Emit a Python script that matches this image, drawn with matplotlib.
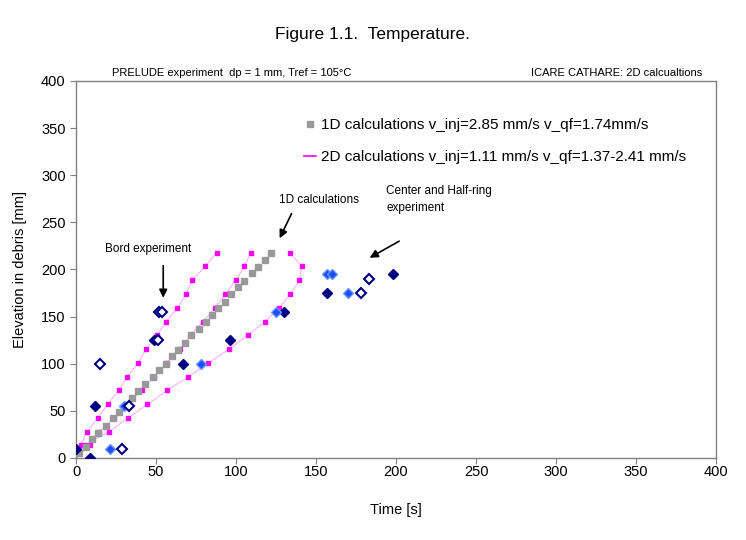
import matplotlib.pyplot as plt
from matplotlib.lines import Line2D

plt.rcParams['font.family'] = ['Liberation Sans', 'DejaVu Sans']

# 1D calculation (grey squares)
t_1d = [2, 6, 10, 14, 19, 23, 27, 31, 35, 39, 43, 48, 52, 56, 60,
        64, 68, 72, 77, 81, 85, 89, 93, 97, 101, 105, 110, 114, 118, 122]
z_1d = [5, 12, 20, 27, 34, 42, 49, 56, 64, 71, 78, 86, 93, 100, 108,
        115, 122, 130, 137, 144, 152, 159, 166, 174, 181, 188, 196, 203, 210, 218]

# 2D calculations, three radial positions (magenta)
z_2d = [0, 13.8, 27.8, 42.6, 56.8, 72, 86, 100.8, 115.3, 130.2, 144.7, 159, 173.9, 188.4, 203.2, 217.7]
t_2d_a = [0, 2.9, 6.9, 13.6, 19.8, 26.7, 32.1, 38.8, 43.8, 50.8, 56.3, 63.1, 68.8, 72.7, 80.6, 87.9]
t_2d_b = [0, 8.6, 14.4, 23.8, 32.3, 41.1, 48.6, 56.6, 64.7, 71.6, 79.4, 86.9, 93.3, 99.8, 105.2, 109.2]
t_2d_c = [0, 5.6, 20.6, 32.7, 44.6, 57.1, 70.2, 82.8, 95.6, 107.3, 118.1, 126.9, 133.9, 139.6, 141.1, 133.8]

# experiments
t_exp_dark = [0, 9, 12, 49, 67, 96, 130, 157, 198]
z_exp_dark = [10, 0, 55, 125, 100, 125, 155, 175, 195]
t_exp_blue = [21, 30, 78, 125, 157, 160, 170]
z_exp_blue = [10, 55, 100, 155, 195, 195, 175]
t_exp_open = [29, 15, 33, 51, 52, 54, 178, 183]
z_exp_open = [10, 100, 55, 125, 155, 155, 175, 190]

label_1d = "1D calculations v_inj=2.85 mm/s v_qf=1.74mm/s"
label_2d = "2D calculations v_inj=1.11 mm/s v_qf=1.37-2.41 mm/s"

fig = plt.figure(figsize=(7.46, 5.40), dpi=100)
ax = fig.add_axes([0.1019, 0.1519, 0.8579, 0.6981])

for t in (t_2d_a, t_2d_b, t_2d_c):
    ax.plot(t, z_2d, color='#ffa6ff', lw=0.7, marker='s', ms=3.3,
            mfc='#ff00ff', mec='#ff00ff', markevery=slice(1, None), zorder=2)

ax.plot(t_1d, z_1d, ls='none', marker='s', ms=5, color='#999999', zorder=3)

ax.plot(t_exp_dark, z_exp_dark, ls='none', marker='D', ms=5.3,
        mfc='#000080', mec='#000080', zorder=4)
ax.plot(t_exp_blue, z_exp_blue, ls='none', marker='D', ms=5.3,
        mfc='#1a4dff', mec='#6b95ff', zorder=4)
ax.plot(t_exp_open, z_exp_open, ls='none', marker='D', ms=5.0,
        mfc='white', mec='#000080', mew=1.5, zorder=5)

ax.set_xlim(0, 400)
ax.set_ylim(0, 400)
ax.set_xticks(range(0, 401, 50))
ax.set_yticks(range(0, 401, 50))
ax.tick_params(labelsize=10.5, color='#808080', length=4, width=0.8)
ax.tick_params(axis='x', pad=1)
for s in ax.spines.values():
    s.set_color('#808080')
    s.set_linewidth(1.0)
ax.set_xlabel("Time [s]", fontsize=10.5, labelpad=17)
ax.set_ylabel("Elevation in debris [mm]", fontsize=10.5, labelpad=10)

handles = [Line2D([], [], ls='none', marker='s', ms=5, color='#999999'),
           Line2D([], [], color='#ff00ff', lw=1.2)]
ax.legend(handles, [label_1d, label_2d], loc='upper left',
          bbox_to_anchor=(0.335, 0.937), frameon=False, fontsize=11,
          handlelength=0.8, handletextpad=0.3, labelspacing=1.15)

arrow = dict(arrowstyle='-|>', color='black', lw=1.2, mutation_scale=12)
ax.text(45, 222, "Bord experiment", fontsize=8.5, ha='center', va='center')
ax.annotate("", xy=(54.5, 167), xytext=(54.5, 207), arrowprops=arrow)
ax.text(127, 274, "1D calculations", fontsize=8.5, ha='left', va='center')
ax.annotate("", xy=(126.5, 230.5), xytext=(135.5, 262), arrowprops=arrow)
ax.text(194, 274, "Center and Half-ring\nexperiment", fontsize=8.5,
        ha='left', va='center', linespacing=1.6)
ax.annotate("", xy=(182, 211), xytext=(203.5, 231.5), arrowprops=arrow)

fig.text(0.15, 0.865, "PRELUDE experiment  dp = 1 mm, Tref = 105\u00b0C",
         fontsize=8, ha='left', va='center')
fig.text(0.942, 0.865, "ICARE CATHARE: 2D calcualtions",
         fontsize=8, ha='right', va='center')
fig.text(0.499, 0.936, "Figure 1.1.  Temperature.", fontsize=12.5,
         ha='center', va='center')

fig.savefig("out.png", dpi=100)
